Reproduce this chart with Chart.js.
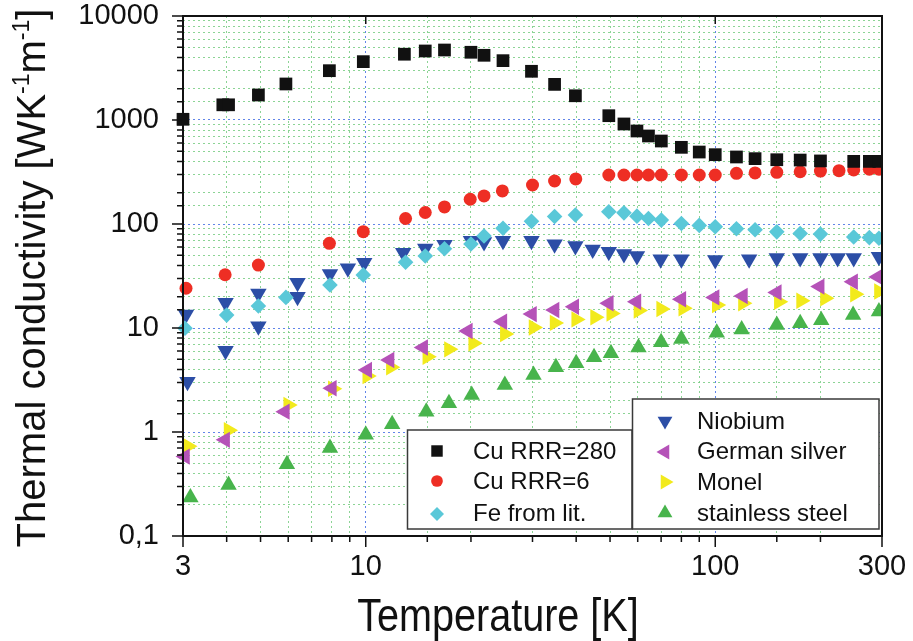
<!DOCTYPE html>
<html>
<head>
<meta charset="utf-8">
<script src="https://cdn.jsdelivr.net/npm/chart.js@4/dist/chart.umd.min.js"></script>
<style>
  html, body { margin: 0; padding: 0; background: #fff; }
  #wrap { width: 913px; height: 641px; }
</style>
</head>
<body>
<div id="wrap"><canvas id="cond"></canvas></div>
<script>
// values (T in K, k in W/K/m)
const cu280T = [3, 3.9, 4.05, 4.93, 5.91, 7.87, 9.84, 12.9, 14.8, 16.8, 20, 21.8, 24.7, 29.8, 34.7, 39.8, 49.6, 54.8, 59.7, 64.4, 70.1, 80, 90, 100, 115, 130, 150, 175, 200, 249, 276, 294];
const cu280K = [1016, 1400, 1400, 1740, 2220, 2980, 3640, 4290, 4610, 4710, 4480, 4190, 3720, 2940, 2200, 1710, 1100, 916, 784, 702, 628, 546, 492, 464, 441, 425, 415, 412, 404, 400, 400, 400];

const cu6T = [3.06, 3.96, 4.93, 7.87, 9.84, 13, 14.8, 16.8, 19.9, 21.8, 24.6, 30, 34.7, 39.9, 49.6, 54.8, 59.7, 64.4, 70.1, 80, 90, 100, 115, 130, 150, 175, 200, 226, 249, 276, 294];
const cu6K = [24.1, 32.5, 40.3, 65.2, 84.3, 113, 129, 146, 173, 186, 208, 237, 259, 271, 296, 296, 296, 296, 296, 296, 296, 296, 307, 310, 314, 318, 323, 326, 331, 336, 336];

const feT = [3.04, 4.0, 4.93, 5.91, 7.9, 9.84, 13, 14.8, 16.8, 20, 21.8, 24.7, 29.8, 34.7, 39.8, 49.6, 54.8, 59.7, 64.4, 70.1, 80, 90, 100, 115, 130, 150, 175, 200, 249, 276, 294];
const feK = [9.93, 13.3, 16.3, 19.7, 25.9, 32.4, 42.9, 49.2, 57.9, 64.3, 76.7, 91, 106, 118, 122, 131, 128, 119, 113, 109, 101, 97, 94, 90, 88, 84, 81, 80, 75, 74, 73];

const nbT = [3.09, 3.06, 3.97, 3.97, 4.93, 4.93, 6.38, 6.38, 7.9, 8.89, 9.9, 12.8, 14.8, 16.8, 20, 21.8, 24.7, 29.8, 34.7, 39.8, 44.6, 49.6, 54.8, 59.7, 69.8, 80, 100, 125, 150, 175, 200, 224, 249, 294];
const nbK = [3.05, 13.5, 6.05, 17.5, 10.4, 21.5, 20, 27.3, 33, 37.5, 42.5, 53, 58, 63, 69, 67, 69, 69, 64, 61.4, 57, 54, 51.5, 49.2, 45.7, 45.7, 45, 45.7, 47, 47, 47, 47, 47, 48.5];

const gsT = [3.04, 3.96, 5.87, 8.0, 10.1, 11.7, 14.6, 19.6, 24.6, 29.9, 34.7, 39.5, 49.6, 59.5, 80, 99.6, 120, 150, 199, 248, 292];
const gsK = [0.58, 0.84, 1.57, 2.63, 3.94, 4.92, 6.5, 9.35, 11.5, 13.6, 14.9, 16, 17.3, 17.9, 18.9, 19.7, 20.3, 22, 25, 27.9, 31];

const monelT = [3.1, 4.05, 6.0, 8.05, 10.1, 11.8, 15, 17.3, 20.3, 25, 30.2, 34.7, 40, 45.3, 50.4, 60.3, 70, 81, 101, 120, 152, 176, 206, 251, 294];
const monelK = [0.73, 1.04, 1.82, 2.6, 3.45, 4.19, 5.3, 6.23, 7.12, 8.76, 10.1, 11.2, 12.1, 12.7, 13.8, 14.7, 15.2, 15.5, 16.6, 17.3, 17.9, 18.3, 19.3, 21.1, 22.4];

const ssT = [3.15, 4.05, 5.95, 7.9, 10, 11.9, 14.9, 17.3, 20.1, 25, 30.2, 35, 40, 45, 50.3, 60.3, 70, 80, 101, 119, 150, 175, 201, 248, 294];
const ssK = [0.235, 0.31, 0.49, 0.70, 0.94, 1.19, 1.57, 1.89, 2.27, 2.83, 3.53, 4.19, 4.57, 5.22, 5.71, 6.5, 7.28, 7.84, 9.0, 9.7, 10.7, 11.1, 11.9, 13.3, 14.4];

const xTickLabels = [3, 10, 100, 300];
const yTickLabels = ['0,1', '1', '10', '100', '1000', '10000'];

const FONT = "'Liberation Sans', Arial, Helvetica, sans-serif";
const GRID_MINOR = 'rgba(120,205,130,0.85)';
const GRID_MAJOR = 'rgba(80,120,230,0.9)';

// series: label, T, k, colour, point style, rotation, radius
const series = [
  ['Cu RRR=280', cu280T, cu280K, '#111111', 'rect', 0, 9],
  ['Cu RRR=6', cu6T, cu6K, '#ee2e24', 'circle', 0, 6.5],
  ['Fe from lit.', feT, feK, '#5ac8d8', 'rectRot', 0, 7.8],
  ['Niobium', nbT, nbK, '#2c4ea6', 'triangle', 180, 9.5],
  ['German silver', gsT, gsK, '#b552b8', 'triangle', -90, 9.5],
  ['Monel', monelT, monelK, '#f2ea1c', 'triangle', 90, 9.5],
  ['stainless steel', ssT, ssK, '#48b44c', 'triangle', 0, 9.5]
];

function isDecade(v) {
  const l = Math.log10(v);
  return Math.abs(l - Math.round(l)) < 1e-6;
}
function near(a, b) { return Math.abs(a - b) < 1e-6 * b; }

const datasets = series.map(s => ({
  label: s[0],
  data: s[1].map((t, i) => ({ x: t, y: s[2][i] })),
  backgroundColor: s[3],
  borderColor: s[3],
  borderWidth: 0,
  pointStyle: s[4],
  rotation: s[5],
  pointRadius: s[6],
  pointHoverRadius: s[6],
  showLine: false,
  clip: { left: 12, right: 0, top: 0, bottom: 0 }
}));

// two framed legend boxes, frame, tick marks and axis titles
const decor = {
  id: 'decor',
  afterDraw(chart) {
    const ctx = chart.ctx;
    const a = chart.chartArea;
    const xs = chart.scales.x, ys = chart.scales.y;
    ctx.save();

    // tick marks
    ctx.strokeStyle = '#111';
    ctx.lineWidth = 1.5;
    ctx.beginPath();
    xs.ticks.forEach(t => {
      const px = xs.getPixelForValue(t.value);
      const major = isDecade(t.value) || near(t.value, 3) || near(t.value, 300);
      ctx.moveTo(px, a.bottom);
      ctx.lineTo(px, a.bottom + (major ? 11 : 6));
      if (isDecade(t.value)) {
        ctx.moveTo(px, a.top);
        ctx.lineTo(px, a.top + 8);
      }
    });
    ys.ticks.forEach(t => {
      const py = ys.getPixelForValue(t.value);
      const major = isDecade(t.value);
      ctx.moveTo(a.left, py);
      ctx.lineTo(a.left - (major ? 11 : 6), py);
    });
    ctx.stroke();

    // frame
    ctx.lineWidth = 2;
    ctx.strokeStyle = '#111';
    ctx.strokeRect(a.left, a.top, a.right - a.left, a.bottom - a.top);

    // legends
    const boxes = [
      { x: 407.5, y: 430, w: 224.5, h: 99, mx: 437, tx: 473,
        rows: [[0, 451, 459], [1, 481, 489], [2, 514, 521]] },
      { x: 632.5, y: 399, w: 246.5, h: 130, mx: 665, tx: 697,
        rows: [[3, 421, 428.5], [4, 452, 459], [5, 482, 489.5], [6, 513, 520.5]] }
    ];
    boxes.forEach(b => {
      ctx.fillStyle = '#fff';
      ctx.fillRect(b.x, b.y, b.w, b.h);
      ctx.lineWidth = 1.5;
      ctx.strokeStyle = '#3a3a3a';
      ctx.strokeRect(b.x, b.y, b.w, b.h);
      b.rows.forEach(r => {
        const s = series[r[0]];
        ctx.fillStyle = s[3];
        ctx.strokeStyle = s[3];
        Chart.helpers.drawPoint(ctx, { pointStyle: s[4], rotation: s[5], radius: s[6] * 0.9, borderWidth: 0 }, b.mx, r[1]);
        ctx.fillStyle = '#111';
        ctx.font = '24px ' + FONT;
        ctx.textAlign = 'left';
        ctx.textBaseline = 'alphabetic';
        ctx.fillText(s[0], b.tx, r[2]);
      });
    });

    // x title
    ctx.fillStyle = '#111';
    ctx.save();
    ctx.translate(498, 631);
    ctx.scale(0.86, 1);
    ctx.font = '46px ' + FONT;
    ctx.textAlign = 'center';
    ctx.textBaseline = 'alphabetic';
    ctx.fillText('Temperature [K]', 0, 0);
    ctx.restore();

    // y title with superscripts
    const parts = [['Thermal conductivity [WK', false], ['-1', true], ['m', false], ['-1', true], [']', false]];
    const mainFont = '40px ' + FONT, supFont = '23px ' + FONT;
    ctx.save();
    ctx.translate(45, 278);
    ctx.rotate(-Math.PI / 2);
    ctx.textAlign = 'left';
    ctx.textBaseline = 'alphabetic';
    let total = 0;
    parts.forEach(p => { ctx.font = p[1] ? supFont : mainFont; total += ctx.measureText(p[0]).width; });
    let x = -total / 2;
    parts.forEach(p => {
      ctx.font = p[1] ? supFont : mainFont;
      ctx.fillText(p[0], x, p[1] ? -16 : 0);
      x += ctx.measureText(p[0]).width;
    });
    ctx.restore();

    ctx.restore();
  }
};

new Chart(document.getElementById('cond'), {
  type: 'scatter',
  data: { datasets: datasets },
  options: {
    responsive: true,
    maintainAspectRatio: false,
    animation: false,
    events: [],
    layout: { padding: { top: 16, right: 31, left: 0, bottom: 0 } },
    plugins: {
      legend: { display: false },
      tooltip: { enabled: false }
    },
    scales: {
      x: {
        type: 'logarithmic',
        min: 3,
        max: 300,
        afterFit: s => { s.height = 105; },
        grid: {
          drawTicks: true,
          tickLength: 16,
          tickColor: 'rgba(0,0,0,0)',
          lineWidth: 1,
          color: c => (c.tick && isDecade(c.tick.value)) ? GRID_MAJOR : GRID_MINOR
        },
        border: { display: false, dash: [2, 3] },
        ticks: {
          autoSkip: false,
          maxRotation: 0,
          padding: 0,
          color: '#111',
          font: { family: FONT, size: 29, lineHeight: 1 },
          callback: v => xTickLabels.some(t => near(v, t)) ? String(Math.round(v)) : ''
        }
      },
      y: {
        type: 'logarithmic',
        min: 0.1,
        max: 10000,
        afterFit: s => { s.width = 183; },
        grid: {
          drawTicks: true,
          tickLength: 24,
          tickColor: 'rgba(0,0,0,0)',
          lineWidth: 1,
          color: c => (c.tick && isDecade(c.tick.value)) ? GRID_MAJOR : GRID_MINOR
        },
        border: { display: false, dash: [2, 3] },
        ticks: {
          autoSkip: false,
          padding: 0,
          color: '#111',
          font: { family: FONT, size: 29, lineHeight: 1 },
          callback: v => {
            if (!isDecade(v)) return '';
            const i = Math.round(Math.log10(v)) + 1;
            return yTickLabels[i];
          }
        }
      }
    }
  },
  plugins: [decor]
});
</script>
</body>
</html>
